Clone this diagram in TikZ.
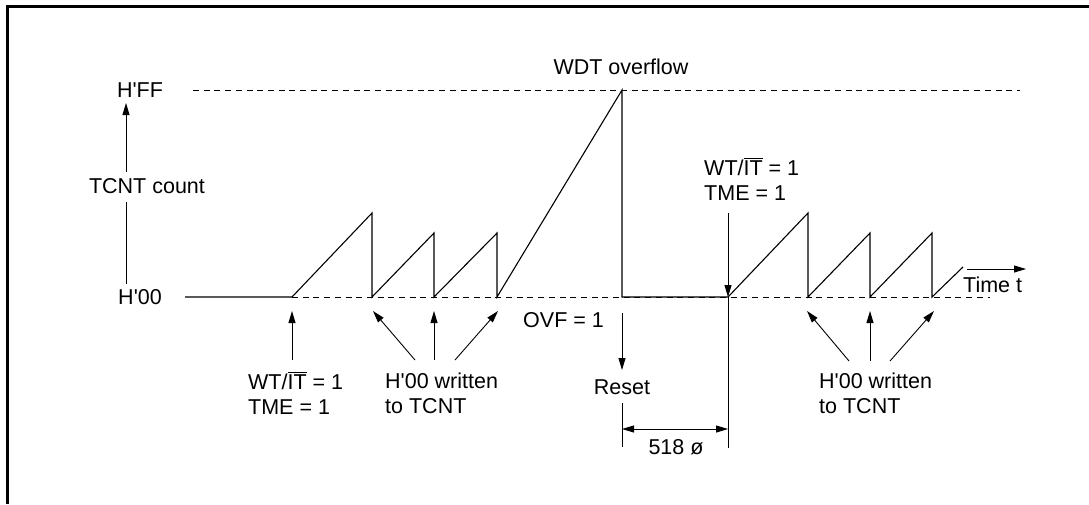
\documentclass[tikz,border=0pt]{standalone}
\usepackage{fontspec}
\setmainfont{Liberation Sans}
\usetikzlibrary{arrows.meta}
\newcommand{\sq}{\textquotesingle}
\newcommand{\ovl}[1]{\leavevmode\vbox{\hrule height 1.3pt\kern 1.6pt\hbox{#1}}}
\begin{document}
\begin{tikzpicture}[x=1pt,y=-1pt,
  lbl/.style={font=\fontsize{21.5}{25}\selectfont, inner sep=0pt},
  blk/.style={lbl, align=left, anchor=west},
  sig/.style={line width=1.1pt, line join=miter},
  guide/.style={line width=1pt, dash pattern=on 6pt off 4.7pt},
  pointer/.style={line width=0.9pt, -{Triangle[length=12pt,width=7pt]}},
  plain/.style={line width=0.9pt},
  frameline/.style={line width=3pt}]
\useasboundingbox (0,0) rectangle (1089,504);
% frame (top and left edges)
\coordinate (fTR) at (1089,6);
\coordinate (fTL) at (7,6);
\coordinate (fBL) at (7,504);
\draw[frameline] (fTR) -- (fTL) -- (fBL);

% axis labels
\node[lbl] (hff) at (140,90) {H\sq FF};
\node[lbl] (h00) at (140,297) {H\sq 00};
\node[lbl] (tcnt) at (147,186) {TCNT count};
\coordinate (axTop) at (126,103);
\coordinate (axA) at (126,172);
\coordinate (axB) at (126,202);
\coordinate (axBot) at (126,284);
\draw[pointer] (axA) -- (axTop);
\draw[plain] (axB) -- (axBot);

% guide lines
\coordinate (gFFa) at (193,90);
\coordinate (gFFb) at (1020,90);
\coordinate (g00a) at (292,297);
\coordinate (g00b) at (990,297);
\draw[guide] (gFFa) -- (gFFb);
\draw[guide] (g00a) -- (g00b);

% waveform
\coordinate (s0) at (185,297);
\coordinate (s1) at (292,297);
\coordinate (p1) at (372,213);
\coordinate (b1) at (372,297);
\coordinate (p2) at (434,233);
\coordinate (b2) at (434,297);
\coordinate (p3) at (497,233);
\coordinate (b3) at (497,297);
\coordinate (p4) at (622,90);
\coordinate (b4) at (622,297);
\coordinate (s5) at (728,297);
\coordinate (p5) at (808,213);
\coordinate (b5) at (808,297);
\coordinate (p6) at (870,233);
\coordinate (b6) at (870,297);
\coordinate (p7) at (932,233);
\coordinate (b7) at (932,297);
\coordinate (p8) at (963,267);
\draw[sig] (s0) -- (s1) -- (p1) -- (b1) -- (p2) -- (b2) -- (p3) -- (b3)
  -- (p4) -- (b4) -- (s5) -- (p5) -- (b5) -- (p6) -- (b6) -- (p7) -- (b7) -- (p8);

% time axis
\coordinate (tA) at (967,269);
\coordinate (tB) at (1026,269);
\draw[pointer] (tA) -- (tB);
\node[lbl, anchor=west] (time) at (963,285) {Time t};

% WDT overflow
\node[lbl] (wdt) at (621,67) {WDT overflow};
\node[lbl, anchor=west] (ovf) at (523,320) {OVF = 1};

% left start annotation
\node[blk] (start1) at (248,393) {WT/\ovl{IT} = 1\\TME = 1};
\coordinate (st1a) at (292,360);
\coordinate (st1b) at (292,311);
\draw[pointer] (st1a) -- (st1b);

% H'00 written (left group)
\node[blk] (wr1) at (385,393) {H\sq 00 written\\to TCNT};
\coordinate (w1a) at (415,360);
\coordinate (w1at) at (373,311);
\coordinate (w1b) at (434,360);
\coordinate (w1bt) at (434,311);
\coordinate (w1c) at (455,360);
\coordinate (w1ct) at (498,311);
\draw[pointer] (w1a) -- (w1at);
\draw[pointer] (w1b) -- (w1bt);
\draw[pointer] (w1c) -- (w1ct);

% Reset
\coordinate (rA) at (622,313);
\coordinate (rB) at (622,370);
\draw[pointer] (rA) -- (rB);
\node[lbl] (reset) at (622,387) {Reset};
\coordinate (rC) at (622,403);
\coordinate (rD) at (622,447);
\draw[plain] (rC) -- (rD);

% restart annotation
\node[blk] (start2) at (704,179) {WT/\ovl{IT} = 1\\TME = 1};
\coordinate (st2a) at (728,213);
\coordinate (st2b) at (728,297);
\coordinate (st2c) at (728,448);
\draw[pointer] (st2a) -- (st2b);
\draw[plain] (st2b) -- (st2c);

% 518 dimension
\coordinate (dA) at (622,429);
\coordinate (dB) at (728,429);
\draw[line width=0.9pt, {Triangle[length=12pt,width=7pt]}-{Triangle[length=12pt,width=7pt]}] (dA) -- (dB);
\node[lbl] (dim) at (676,447) {518 ø};

% H'00 written (right group)
\node[blk] (wr2) at (819,393) {H\sq 00 written\\to TCNT};
\coordinate (w2a) at (849,361);
\coordinate (w2at) at (807,311);
\coordinate (w2b) at (870,361);
\coordinate (w2bt) at (870,311);
\coordinate (w2c) at (890,361);
\coordinate (w2ct) at (934,311);
\draw[pointer] (w2a) -- (w2at);
\draw[pointer] (w2b) -- (w2bt);
\draw[pointer] (w2c) -- (w2ct);
\end{tikzpicture}
\end{document}
